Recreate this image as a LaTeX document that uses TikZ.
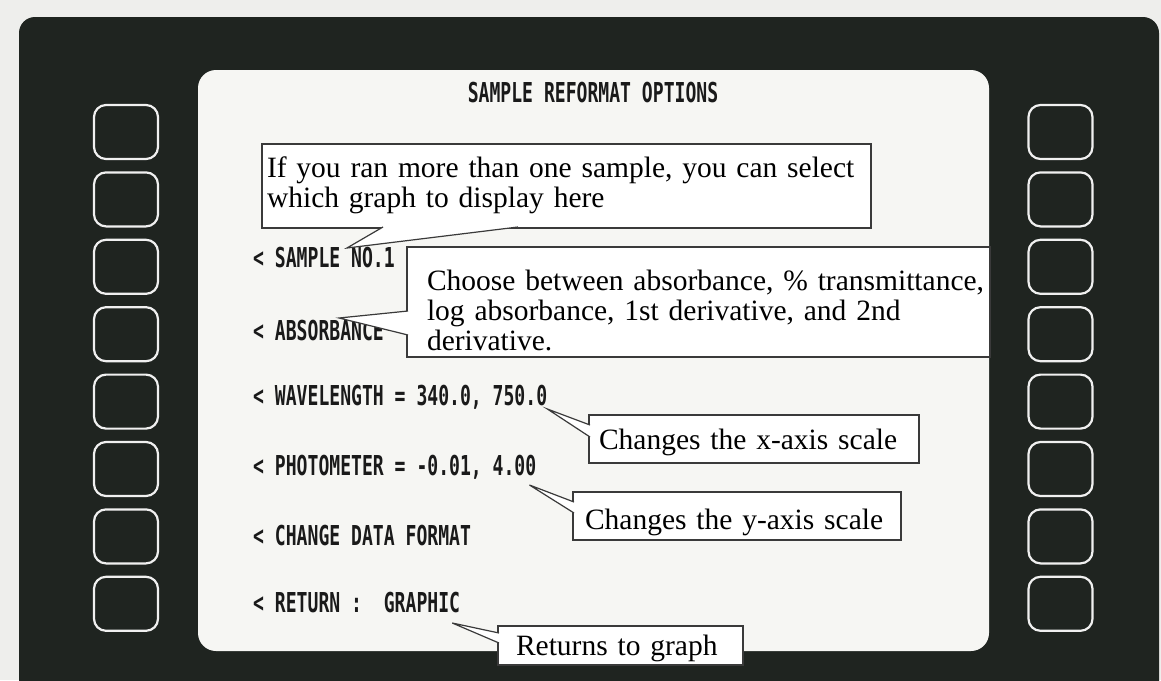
\documentclass[tikz,border=0pt]{standalone}
\usepackage{fontspec}
\setmainfont{Liberation Serif}
\newfontfamily\screenfont[FakeStretch=0.66]{DejaVu Sans Mono}
\usepackage{xcolor}
\usetikzlibrary{calc}

\definecolor{paper}{HTML}{EEEEEC}
\definecolor{bezel}{HTML}{1F2420}
\definecolor{screen}{HTML}{F6F6F3}
\definecolor{btnline}{HTML}{F0F0F0}
\definecolor{screentext}{HTML}{1A1A1A}
\definecolor{calloutline}{HTML}{3A3A3A}

\begin{document}
\begin{tikzpicture}[x=1pt, y=-1pt,
    button/.style={draw=btnline, line width=2.2pt, rounded corners=12pt,
      minimum width=64pt, minimum height=54pt, inner sep=0pt},
    menu/.style={anchor=base west, inner sep=0pt, text=screentext,
      font=\screenfont\bfseries\fontsize{27.4}{30}\selectfont},
    callout/.style={draw=calloutline, fill=white, line width=1.2pt,
      anchor=north west, inner ysep=0pt, outer sep=0pt, align=left,
      font=\fontsize{29.5}{30}\selectfont},
    pointer/.style={draw=calloutline, fill=white, line width=1.2pt,
      line join=miter}]

  \useasboundingbox (0,0) rectangle (1161,680);
  \clip (0,0) rectangle (1161,680);
  \fill[paper] (0,0) rectangle (1161,680);

  % Bezel
  \fill[bezel, rounded corners=16pt] (19,17) rectangle (1159,720);

  % Soft keys
  \foreach \i in {0,...,7}{
    \node[button] (lkey\i) at (126,132+67.4*\i) {};
    \node[button] (rkey\i) at (1060.5,132+67.4*\i) {};
  }

  % Screen
  \fill[screen, rounded corners=18pt] (198,70) rectangle (989,651);

  % Menu
  \node[menu, anchor=base] (title) at (593,102) {SAMPLE REFORMAT OPTIONS};
  \node[menu] (sample) at (253,267) {< SAMPLE NO.1};
  \node[menu] (absorb) at (253,340) {< ABSORBANCE};
  \node[menu] (wave) at (253,405) {< WAVELENGTH = 340.0, 750.0};
  \node[menu] (photo) at (253,475) {< PHOTOMETER = -0.01, 4.00};
  \node[menu] (change) at (253,545) {< CHANGE DATA FORMAT};
  \node[menu] (ret) at (253,612) {< RETURN :~ GRAPHIC};

  % Callouts
  \node[callout, inner xsep=5pt, text width=599pt, text height=33pt,
        text depth=51pt] (samplenote) at (262,144)
    {If you ran more than one sample, you can select\\
     which graph to display here};
  \filldraw[pointer] ($(samplenote.south west)+(121,-1)$)
    -- ($(sample.base east)+(-48,-19)$)
    -- ($(samplenote.south west)+(256,-1)$);

  \node[callout, inner xsep=20pt, text width=543pt, text height=43pt,
        text depth=67pt] (absorbnote) at (407,247)
    {\mbox{Choose between absorbance, \% transmittance,}\\
     log absorbance, 1st derivative, and 2nd\\
     derivative.};
  \filldraw[pointer] ($(absorbnote.north west)+(1,64)$)
    -- ($(absorb.base east)+(-45,-22)$)
    -- ($(absorbnote.north west)+(1,88)$);

  \node[callout, inner xsep=10pt, text width=310pt, text height=34pt,
        text depth=14pt] (wavenote) at (589,415)
    {Changes the x-axis scale};
  \filldraw[pointer] ($(wavenote.north west)+(1,10)$)
    -- ($(wave.base east)+(0,4)$)
    -- ($(wavenote.north west)+(1,22)$);

  \node[callout, inner xsep=12pt, text width=304pt, text height=37pt,
        text depth=11pt] (photonote) at (573,492)
    {Changes the y-axis scale};
  \filldraw[pointer] ($(photonote.north west)+(1,10)$)
    -- ($(photo.base east)+(-7,10)$)
    -- ($(photonote.north west)+(1,21)$);

  \node[callout, inner xsep=18pt, text width=209pt, text height=29pt,
        text depth=10pt] (retnote) at (498,626)
    {Returns to graph};
  \filldraw[pointer] ($(retnote.north west)+(1,7)$)
    -- ($(ret.base east)+(-8,11)$)
    -- ($(retnote.north west)+(1,17)$);
\end{tikzpicture}
\end{document}
